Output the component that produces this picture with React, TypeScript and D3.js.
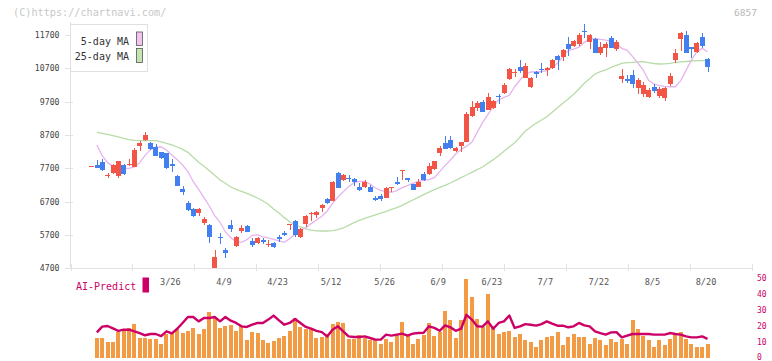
import React from 'react';
import * as d3 from 'd3';

const openP = [7769,7799,7898,7469,7550,7478,7808,7799,7748,8369,
 8549,8468,8330,8180,8150,7820,7469,7079,6668,6479,
 6368,6050,5999,4718,5648,5249,5999,5369,5828,5969,
 5519,5468,5548,5399,5450,5648,5768,6005,6119,5630,
 6029,6320,6299,6500,6779,6728,7568,7349,7418,7370,
 7148,7130,7148,6818,6878,6818,7100,7289,7619,7409,
 7229,7148,7529,7529,7669,8149,8468,8549,8220,8369,
 8498,9269,9500,9680,9449,9518,9878,9968,10379,10550,
 10749,10418,10148,10580,10679,10649,10718,11070,11049,11429,
 11370,11420,11819,11500,11570,11150,11300,11618,11279,10379,
 10379,10499,10100,9929,9849,10149,9869,9800,10229,10949,
 11579,11700,11330,11180,11629,10979];
const highP = [7769,7949,7970,7568,7829,7934,7830,7990,8318,8528,
 8780,8498,8429,8200,8170,7970,7490,7169,6719,6518,
 6500,6248,6029,5249,5750,5318,6149,5669,5999,5990,
 5600,5640,5618,5548,5498,5699,5810,6029,6149,5899,
 6299,6398,6428,6629,6800,7310,7598,7529,7499,7400,
 7250,7349,7200,6878,6929,7148,7148,7449,7649,7409,
 7240,7370,7598,7849,7930,8369,8669,8669,8330,8498,
 9398,9728,9728,9749,9949,9749,9929,10250,10709,10670,
 10949,10850,10429,10629,10870,10749,10979,11100,11270,11629,
 11549,11749,12020,11719,11600,11499,11499,11669,11549,10670,
 10499,10649,10400,10298,10109,10229,10149,10130,10569,11270,
 11779,11819,11330,11480,11749,10999];
const lowP = [7769,7709,7610,7418,7529,7400,7510,7769,7740,8228,
 8528,8249,8060,7980,7680,7598,7178,6899,6419,6230,
 6278,6000,5450,4700,5420,5018,5798,5348,5750,5780,
 5348,5440,5429,5348,5300,5498,5669,5849,5648,5600,
 5948,6119,6218,6398,6620,6719,7099,7328,7280,7178,
 7028,7099,6998,6728,6729,6800,6998,7200,7349,7280,
 7049,7130,7328,7499,7650,8078,8288,8270,8200,8180,
 8490,9248,9428,9398,9440,9470,9629,9929,10349,10449,
 10550,10400,10118,10418,10550,10479,10670,10649,10928,11079,
 11349,11370,11619,11279,11150,11099,11049,11299,11229,10268,
 10250,10100,9929,9830,9818,9949,9800,9730,10169,10849,
 11219,11170,11019,11149,11300,10598];
const closeP = [7769,7718,7649,7499,7799,7919,7529,7829,8249,8468,
 8699,8270,8078,8000,7700,7769,7178,6998,6449,6278,
 6470,6170,5648,5048,5609,5168,5879,5648,5918,5798,
 5399,5618,5489,5429,5348,5570,5708,6029,5699,5879,
 6269,6350,6380,6599,6650,7298,7118,7499,7378,7280,
 7049,7298,6998,6758,6779,7118,7148,7229,7649,7349,
 7049,7298,7349,7779,7919,8318,8288,8299,8318,8498,
 9329,9530,9650,9398,9830,9718,9848,10199,10670,10589,
 10629,10769,10400,10520,10649,10700,10949,10949,11249,11279,
 11520,11700,11780,11700,11150,11350,11429,11318,11499,10469,
 10329,10220,10349,10199,10049,10029,10079,10100,10469,11149,
 11749,11170,11270,11450,11370,10749];

const ma5 = [null,8399,8080,7870,7760,7710,7700,7700,7740,7870,
 8090,8260,8345,8340,8249,8100,7960,7800,7600,7298,
 7070,6820,6570,6280,6080,5790,5620,5500,5480,5560,
 5690,5700,5640,5610,5570,5520,5480,5590,5720,5850,
 5920,6040,6149,6260,6420,6650,6840,6998,7150,7270,
 7310,7310,7230,7110,7040,6998,6980,7030,7120,7180,
 7250,7310,7340,7360,7420,7600,7780,7950,8130,8270,
 8360,8480,8780,9070,9310,9560,9750,9830,9890,10148,
 10349,10520,10590,10598,10605,10629,10730,10850,11060,11230,
 11275,11335,11480,11580,11590,11570,11549,11510,11440,11300,
 11240,11060,10860,10649,10340,10230,10180,10160,10148,10148,
 10330,10640,10949,11199,11300,11199];
const ma25 = [null,8780,8750,8715,8680,8640,8600,8560,8540,8530,
 8528,8528,8528,8490,8450,8400,8340,8270,8180,8030,
 7880,7760,7630,7490,7349,7250,7140,7070,7010,6949,
 6880,6810,6720,6620,6480,6360,6220,6098,6010,5940,
 5880,5845,5825,5819,5819,5830,5860,5910,5990,6070,
 6140,6200,6248,6300,6355,6410,6470,6520,6590,6670,
 6750,6830,6910,6985,7060,7130,7190,7260,7340,7420,
 7500,7580,7660,7740,7850,7960,8080,8210,8340,8470,
 8640,8820,8940,9050,9150,9248,9380,9520,9650,9780,
 9920,10080,10250,10390,10530,10600,10650,10730,10790,10850,
 10870,10880,10895,10898,10870,10845,10830,10835,10850,10880,
 10895,10905,10920,10929,10929,10929];

const volume = [null,12.7,12.7,10,10,16,18,19,21.2,12.7,
 12.7,11.9,11.9,8.8,14.8,16,18,15.5,17,19,
 14.9,18,28.7,25.2,19,20.2,20.6,17,20.2,11.3,
 16.3,15.5,11.3,9.4,10.6,12.5,13.5,16.9,25.2,19.4,
 18,18,12.5,13.1,15,21.2,22.5,21.9,11.9,11.9,
 14.4,12.5,11.3,11.9,8.8,11.9,9.8,14.2,22.2,15,
 8.8,11.9,14.4,22,14,16.3,29.4,23.7,12.7,23.7,
 49.4,38,24.5,19.4,40,20,15,16,17,13,
 15,11,10,7,11,13,14,16,8,13,
 15,13,13,9,12.5,11,8,12,10,12,
 9,24,18,14,11,7,11,8,12,14.4,
 16,12,8.5,7,7,8.5];
const aiPredict = [null,16,19.6,20,18.5,17,17.7,17.7,16.7,15.6,
 14.2,15,15,13.7,16.7,15.4,18.3,21.9,25.6,25.6,
 22.9,25,25,25.6,22.9,25.6,23.3,21.9,19.8,19.4,
 20.8,21.9,21.9,24,26.5,23.5,20.8,21.9,24.4,21.9,
 19.4,18.3,17,16.2,13.5,17.7,19.8,16.7,13.5,13.1,
 13.1,13.5,12.5,11.5,11.5,14.6,14,14.6,15.2,14,
 15.2,15.6,15.8,19.8,18.8,17,20.4,19.2,17,18.3,
 27,24,19.8,19.6,22.9,18.3,21.9,22.9,26.5,18.8,
 19.8,21.2,20.8,20.2,21.2,22.9,21.5,20.2,20.2,19.2,
 19.8,21.9,20.4,19.8,16.7,15.6,14.6,16,16.2,12.9,
 14,15,15,15,15,14.6,14.6,14.6,15.6,15,
 14.6,13.5,12.9,12.9,13.5,12];

const xTickIndex = [15,25,35,45,55,65,75,85,95,105,115];
const xTickLabels = ["3/26","4/9","4/23","5/12","5/26","6/9","6/23","7/7","7/22","8/5","8/20"];
const yTicks = [4700,5700,6700,7700,8700,9700,10700,11700];
const volTicks = [0,10,20,30,40,50];

const RED = '#f25545';
const BLUE = '#4180ee';
const PINK = '#e6b4ee';
const GREEN = '#b8dca8';
const CRIMSON = '#cc0066';
const ORANGE = '#f29a44';
const MONO = '"DejaVu Sans Mono", "Liberation Mono", monospace';

export default function App() {
  const W = 772, H = 361;
  const n = closeP.length;
  const x = d3.scaleLinear().domain([0, n - 1]).range([91.5, 707.5]);
  const y = d3.scaleLinear().domain([4700, 11700]).range([268.3, 35]);
  const yv = d3.scaleLinear().domain([0, 50]).range([358, 278]);
  const grid = d3.scaleLinear().domain([0, 11]).range([70.5, 752]);

  const mkLine = (arr: (number | null)[], sc: d3.ScaleLinear<number, number>) =>
    d3.line<number | null>()
      .defined(d => d != null)
      .x((_, i) => x(i))
      .y(d => sc(d as number))(arr) || '';

  const bodyW = 4.6;
  const barW = 4;

  return (
    <svg width={W} height={H} style={{ position: 'absolute', left: 0, top: 0, background: '#fff' }}
      fontFamily={MONO}>
      <rect x={0} y={0} width={W} height={H} fill="#fff" />
      <text x={13} y={16} fontSize={10.2} fill="#c8c8c8">(C)https://chartnavi.com/</text>
      <text x={757} y={16} fontSize={9.5} fill="#b8b8b8" textAnchor="end">6857</text>

      {/* axes */}
      <line x1={70.5} y1={22} x2={70.5} y2={268.5} stroke="#e2e2e2" strokeWidth={1} />
      <line x1={70.5} y1={268.5} x2={752} y2={268.5} stroke="#e2e2e2" strokeWidth={1} />
      {d3.range(12).map(k => (
        <line key={'g' + k} x1={Math.round(grid(k)) + 0.5} x2={Math.round(grid(k)) + 0.5} y1={264} y2={271} stroke="#e2e2e2" />
      ))}
      {yTicks.map(t => (
        <g key={'y' + t}>
          <line x1={65} x2={73} y1={Math.round(y(t)) + 0.5} y2={Math.round(y(t)) + 0.5} stroke="#e2e2e2" />
          <text x={59.5} y={y(t) + 3} fontSize={8.2} fill="#444" textAnchor="end">{t}</text>
        </g>
      ))}

      {/* moving averages */}
      <path d={mkLine(ma25, y)} fill="none" stroke={GREEN} strokeWidth={1.3} />
      <path d={mkLine(ma5, y)} fill="none" stroke={PINK} strokeWidth={1.3} />

      {/* candles */}
      <g shapeRendering="crispEdges">
        {closeP.map((c, i) => {
          const o = openP[i];
          const up = c >= o;
          const col = up ? RED : BLUE;
          const top = y(Math.max(o, c));
          const bot = y(Math.min(o, c));
          const cx = x(i);
          return (
            <g key={'c' + i}>
              <line x1={Math.round(cx) + 0.5} x2={Math.round(cx) + 0.5} y1={y(highP[i])} y2={y(lowP[i])} stroke={col} strokeWidth={1} />
              <rect x={Math.round(cx - bodyW / 2)} y={top} width={bodyW} height={Math.max(1, bot - top)} fill={col} />
            </g>
          );
        })}
      </g>

      {/* legend */}
      <rect x={70.5} y={24.5} width={77} height={47} fill="#fff" stroke="#e0e0e0" />
      <text x={129} y={44.5} fontSize={10} fill="#333" textAnchor="end">5-day MA</text>
      <rect x={136.5} y={32} width={6} height={13.5} fill="#f0c4f0" stroke="#555" strokeWidth={0.8} />
      <text x={129} y={60} fontSize={10} fill="#333" textAnchor="end">25-day MA</text>
      <rect x={136.5} y={48.5} width={6} height={14} fill="#c4e4b4" stroke="#555" strokeWidth={0.8} />

      {/* x labels */}
      {xTickIndex.map((idx, k) => (
        <text key={'xl' + k} x={x(idx) - 1.5} y={285} fontSize={8.6} fill="#555" textAnchor="middle">{xTickLabels[k]}</text>
      ))}

      {/* AI predict label */}
      <text x={76} y={289.5} fontSize={10} fill={CRIMSON}>AI-Predict</text>
      <rect x={142.5} y={277.5} width={6.5} height={15} fill={CRIMSON} />

      {/* volume bars */}
      <g shapeRendering="crispEdges">
        {volume.map((v, i) => v == null ? null : (
          <rect key={'v' + i} x={Math.round(x(i) - barW / 2)} y={yv(v)} width={barW} height={yv(0) - yv(v)} fill={ORANGE} />
        ))}
      </g>
      <path d={mkLine(aiPredict, yv)} fill="none" stroke={CRIMSON} strokeWidth={2.4} strokeLinejoin="round" />

      {volTicks.map(t => (
        <text key={'vt' + t} x={757} y={Math.min(yv(t) + 3, 359.5)} fontSize={8} fill={CRIMSON}>{t}</text>
      ))}
    </svg>
  );
}
